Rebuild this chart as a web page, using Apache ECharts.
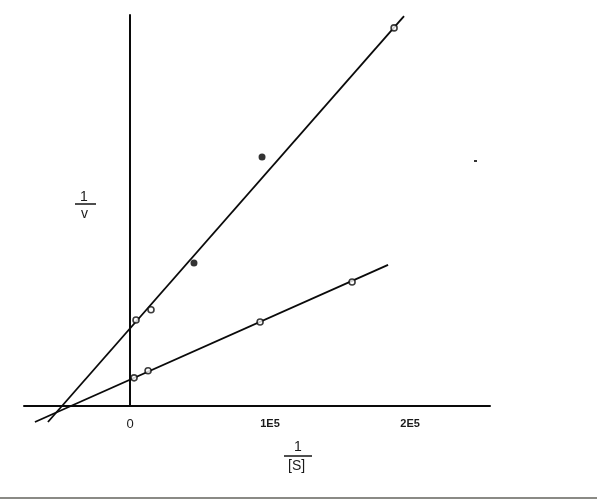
<!DOCTYPE html>
<html>
<head>
<meta charset="utf-8">
<script src="https://cdn.jsdelivr.net/npm/echarts@6/dist/echarts.min.js"></script>
<style>html,body{margin:0;padding:0;background:#fff}#c{width:597px;height:500px}</style>
</head>
<body>
<div id="c"></div>
<script>
// 1/[S] values and 1/v values (arbitrary units)
const tickValues = [0, 100000, 200000];
const tickLabels = ['0', '1E5', '2E5'];

const upperOpenX = [4300, 15000, 188600];
const upperOpenY = [2.20, 2.46, 9.67];
const upperFilledX = [45700, 94300];
const upperFilledY = [3.66, 6.37];
const upperLineX = [-58600, 195700];
const upperLineY = [-0.41, 9.97];

const lowerOpenX = [2900, 12900, 92900, 158600];
const lowerOpenY = [0.72, 0.90, 2.15, 3.17];
const lowerLineX = [-67900, 184300];
const lowerLineY = [-0.41, 3.61];

const zip = (a, b) => a.map((v, i) => [v, b[i]]);

const chart = echarts.init(document.getElementById('c'), null, {renderer: 'canvas'});
const lineStyle = {color: '#0a0a0a', width: 1.8};
chart.setOption({
  animation: false,
  backgroundColor: '#fff',
  grid: {left: 24, right: 107, top: 15, bottom: 94, containLabel: false},
  xAxis: {
    type: 'value', min: -75700, max: 257100,
    axisLine: {onZero: true, lineStyle: {color: '#0a0a0a', width: 2}},
    axisTick: {show: false},
    splitLine: {show: false},
    axisLabel: {
      customValues: tickValues,
      margin: 12,
      formatter: v => { const i = tickValues.indexOf(v); const t = i >= 0 ? tickLabels[i] : ''; return v === 0 ? '{r|' + t + '}' : '{b|' + t + '}'; },
      rich: {
        r: {fontFamily: 'Liberation Sans', fontSize: 13, color: '#1a1a1a'},
        b: {fontFamily: 'Liberation Sans', fontSize: 11, fontWeight: 'bold', color: '#1a1a1a'}
      }
    }
  },
  yAxis: {
    type: 'value', min: 0, max: 10,
    axisLine: {onZero: true, lineStyle: {color: '#0a0a0a', width: 2}},
    axisTick: {show: false},
    axisLabel: {show: false},
    splitLine: {show: false}
  },
  series: [
    {type: 'line', data: zip(upperLineX, upperLineY), symbol: 'none', clip: false, lineStyle: lineStyle, z: 2},
    {type: 'line', data: zip(lowerLineX, lowerLineY), symbol: 'none', clip: false, lineStyle: lineStyle, z: 2},
    {type: 'scatter', data: zip(upperOpenX, upperOpenY), symbol: 'circle', symbolSize: 6, clip: false,
     itemStyle: {color: '#fff', borderColor: '#0a0a0a', borderWidth: 1.6}, z: 3},
    {type: 'scatter', data: zip(lowerOpenX, lowerOpenY), symbol: 'circle', symbolSize: 6, clip: false,
     itemStyle: {color: '#fff', borderColor: '#0a0a0a', borderWidth: 1.6}, z: 3},
    {type: 'scatter', data: zip(upperFilledX, upperFilledY), symbol: 'circle', symbolSize: 7, clip: false,
     itemStyle: {color: '#000'}, z: 3}
  ],
  graphic: [
    {type: 'text', left: 80, top: 190, style: {text: '1', fontFamily: 'Liberation Sans', fontSize: 14, fill: '#1a1a1a'}},
    {type: 'line', shape: {x1: 75, y1: 204, x2: 96, y2: 204}, style: {stroke: '#222', lineWidth: 1.6}},
    {type: 'text', left: 81, top: 207, style: {text: 'v', fontFamily: 'Liberation Sans', fontSize: 14, fill: '#1a1a1a'}},
    {type: 'text', left: 294, top: 440, style: {text: '1', fontFamily: 'Liberation Sans', fontSize: 14, fill: '#1a1a1a'}},
    {type: 'line', shape: {x1: 284, y1: 456, x2: 312, y2: 456}, style: {stroke: '#222', lineWidth: 1.6}},
    {type: 'text', left: 288, top: 459, style: {text: '[S]', fontFamily: 'Liberation Sans', fontSize: 14, fill: '#1a1a1a'}},
    {type: 'rect', shape: {x: 0, y: 497, width: 597, height: 2}, style: {fill: '#8a8a85'}},
    {type: 'rect', shape: {x: 474, y: 160, width: 3, height: 2}, style: {fill: '#333'}}
  ]
});
</script>
</body>
</html>
